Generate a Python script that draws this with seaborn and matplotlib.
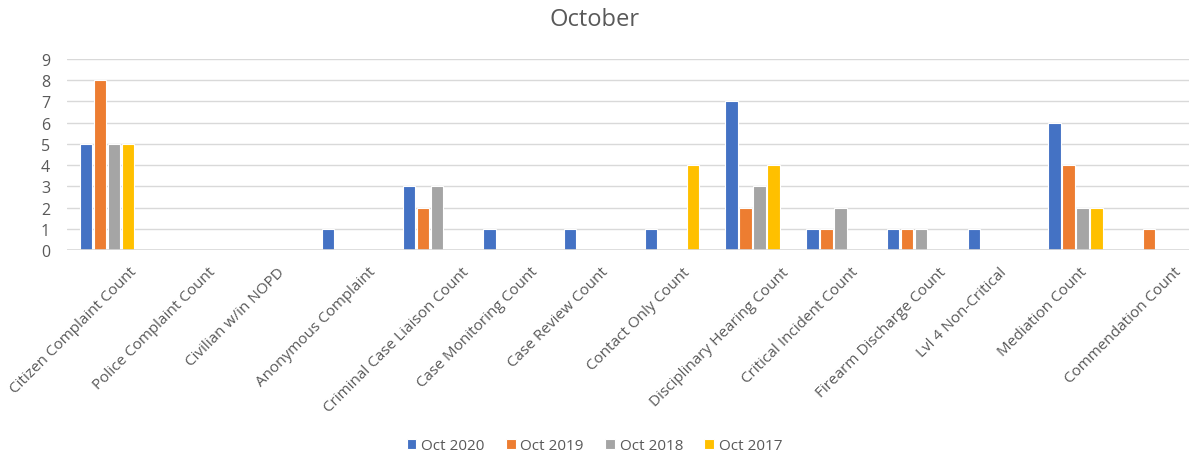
import pandas as pd
import seaborn as sns
import matplotlib.pyplot as plt
import matplotlib.transforms as mtransforms

categories = ['Citizen Complaint Count', 'Police Complaint Count', 'Civilian w/in NOPD',
              'Anonymous Complaint', 'Criminal Case Liaison Count', 'Case Monitoring Count',
              'Case Review Count', 'Contact Only Count', 'Disciplinary Hearing Count',
              'Critical Incident Count', 'Firearm Discharge Count', 'Lvl 4 Non-Critical',
              'Mediation Count', 'Commendation Count']
series = ['Oct 2020', 'Oct 2019', 'Oct 2018', 'Oct 2017']
oct_2020 = [5, 0, 0, 1, 3, 1, 1, 1, 7, 1, 1, 1, 6, 0]
oct_2019 = [8, 0, 0, 0, 2, 0, 0, 0, 2, 1, 1, 0, 4, 1]
oct_2018 = [5, 0, 0, 0, 3, 0, 0, 0, 3, 2, 1, 0, 2, 0]
oct_2017 = [5, 0, 0, 0, 0, 0, 0, 4, 4, 0, 0, 0, 2, 0]
colors = ['#4472C4', '#ED7D31', '#A5A5A5', '#FFC000']

rows = []
for name, vals in zip(series, [oct_2020, oct_2019, oct_2018, oct_2017]):
    for cat, v in zip(categories, vals):
        rows.append({'category': cat, 'count': v, 'series': name})
df = pd.DataFrame(rows)

sns.set_style('white')
plt.rcParams['font.family'] = ['Open Sans', 'DejaVu Sans']
text_col = '#595959'
grid_col = '#D9D9D9'

fig = plt.figure(figsize=(11.89, 4.56), dpi=100)
ax = fig.add_axes([66.7 / 1189, 1 - 251 / 456, 14 * 80.7 / 1189, 191 / 456])

sns.barplot(data=df, x='category', y='count', hue='series', palette=colors,
            order=categories, hue_order=series, width=0.694, gap=0.12,
            saturation=1, edgecolor='white', linewidth=0.8, ax=ax)

ax.set_ylim(0, 9)
ax.set_xlim(-0.5, len(categories) - 0.5)
ax.set_yticks(range(0, 10))
ax.yaxis.grid(True, color=grid_col, linewidth=1)
ax.set_axisbelow(True)
ax.axhline(0, color=grid_col, linewidth=1.2, zorder=5)
for s in ax.spines.values():
    s.set_visible(False)
ax.set_xlabel('')
ax.set_ylabel('')
ax.tick_params(axis='y', length=0, pad=12, labelsize=11.5, labelcolor=text_col)
ax.tick_params(axis='x', length=0, pad=0, labelsize=11, labelcolor=text_col)

# Excel-style: rotated label box centred a bit left of the tick, top aligned
offset = mtransforms.ScaledTranslation(-0.33, -0.14, fig.dpi_scale_trans)
for lab in ax.get_xticklabels():
    lab.set_rotation(45)
    lab.set_ha('center')
    lab.set_va('top')
    lab.set_rotation_mode('default')
    lab.set_transform(lab.get_transform() + offset)

handles, labels = ax.get_legend_handles_labels()
ax.get_legend().remove()
fig.legend(handles, labels, loc='center', bbox_to_anchor=(0.5, 1 - 447 / 456), ncol=4,
           frameon=False, handlelength=0.65, handleheight=0.65, handletextpad=0.3,
           columnspacing=1.4, fontsize=11, labelcolor=text_col)

fig.suptitle('October', y=1 - 20 / 456, va='center', fontsize=17, color=text_col)

fig.savefig('out.png', dpi=100)
